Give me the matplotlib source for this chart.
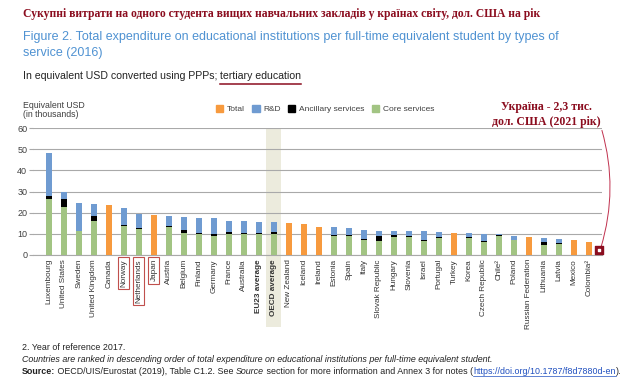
import numpy as np
import matplotlib
matplotlib.use("Agg")
import matplotlib.pyplot as plt
import matplotlib.transforms as mtransforms
from matplotlib.patches import Patch, Rectangle

# ------------------------------------------------------------------ #
#  Data (thousand USD per student, tertiary education, 2016)          #
# ------------------------------------------------------------------ #
countries = ["Luxembourg", "United States", "Sweden", "United Kingdom", "Canada",
             "Norway", "Netherlands", "Japan", "Austria", "Belgium", "Finland",
             "Germany", "France", "Australia", "EU23 average", "OECD average",
             "New Zealand", "Iceland", "Ireland", "Estonia", "Spain", "Italy",
             "Slovak Republic", "Hungary", "Slovenia", "Israel", "Portugal",
             "Turkey", "Korea", "Czech Republic", "Chile²", "Poland",
             "Russian Federation", "Lithuania", "Latvia", "Mexico", "Colombia²"]
nan = np.nan
core = [26.6, 22.5, 11.1, 16.1, nan, 13.7, 12.5, nan, 13.2, 10.6, 10.1, 8.9,
        10.0, 10.0, 10.0, 10.0, nan, nan, nan, 9.1, 8.9, 7.1, 6.6, 8.4, 8.5,
        6.5, 7.9, nan, 7.9, 6.0, 9.1, 7.0, nan, 4.9, 5.4, nan, nan]
ancillary = [1.3, 3.9, 0.0, 2.4, nan, 0.5, 0.2, nan, 0.5, 1.4, 0.3, 1.1,
             0.8, 0.6, 0.6, 0.7, nan, nan, nan, 0.4, 0.6, 0.5, 2.3, 1.1, 0.5,
             0.5, 0.5, nan, 0.5, 0.5, 0.4, 0.3, nan, 1.0, 0.3, nan, nan]
rnd = [20.5, 3.5, 13.3, 5.4, nan, 7.8, 6.8, nan, 4.7, 6.0, 7.2, 7.6,
       5.3, 5.5, 5.2, 4.8, nan, nan, nan, 3.6, 3.3, 4.1, 2.5, 1.7, 2.2,
       4.1, 2.5, nan, 2.1, 3.3, 0.2, 1.7, nan, 2.0, 1.7, nan, nan]
total_only = [nan, nan, nan, nan, 23.6, nan, nan, 19.0, nan, nan, nan, nan,
              nan, nan, nan, nan, 14.9, 14.5, 13.3, nan, nan, nan, nan, nan, nan,
              nan, nan, 10.6, nan, nan, nan, nan, 8.5, nan, nan, 7.3, 5.9]
ukraine_value = 2.3
highlighted = ["Norway", "Netherlands", "Japan"]
bold_labels = ["EU23 average", "OECD average"]

C_ORANGE = "#f79a3e"
C_BLUE = "#6f9bd1"
C_GREEN = "#a2c483"
C_BLACK = "#000000"
C_DARKRED = "#8b0d1f"
C_TITLE = "#4f92d2"
SERIF = ["Liberation Serif", "DejaVu Serif"]

plt.rcParams["font.family"] = ["Liberation Sans", "DejaVu Sans"]

W, H = 620, 391
fig = plt.figure(figsize=(6.2, 3.91), dpi=100)
ax = fig.add_axes([0.053, 0.348, 0.918, 0.324])


def fit_width(txt, target_px):
    # shrink/grow a text so it spans the same width as in the reference
    fig.canvas.draw()
    w = txt.get_window_extent().width
    txt.set_fontsize(txt.get_fontsize() * target_px / w)


def put(xpx, ypx, s, size, **kw):
    return fig.text(xpx / W, 1 - ypx / H, s, fontsize=size, va="center",
                    ha="left", **kw)


x = np.arange(len(countries))
core_a = np.array(core)
anc_a = np.array(ancillary)
rnd_a = np.array(rnd)
w = 0.45

ax.bar(x, core_a, w, color=C_GREEN, zorder=3)
ax.bar(x, anc_a, w, bottom=core_a, color=C_BLACK, zorder=3)
ax.bar(x, rnd_a, w, bottom=core_a + anc_a, color=C_BLUE, zorder=3)
ax.bar(x, total_only, w, color=C_ORANGE, zorder=3)

# Ukraine marker
ux = len(countries) - 0.3
ax.scatter([ux], [ukraine_value], marker="s", s=30, color=C_DARKRED,
           zorder=5, clip_on=False)
ax.scatter([ux], [ukraine_value], marker="s", s=4, color="white",
           zorder=6, clip_on=False)

ax.set_xlim(-1.07, 36.87)
ax.set_ylim(0, 60)
ax.set_yticks(range(0, 61, 10))
ax.grid(axis="y", color="#a9a9a9", linewidth=0.8, zorder=0)
for s in ["top", "right", "left"]:
    ax.spines[s].set_visible(False)
ax.spines["bottom"].set_color("#a9a9a9")
ax.tick_params(axis="y", length=3, color="#a9a9a9", labelsize=6.5,
               labelcolor="#404040", pad=1)
ax.tick_params(axis="x", length=0, pad=3)

ax.set_xticks(x)
ax.set_xticklabels(countries, rotation=90, fontsize=5.9, color="#333333",
                   va="top")
for lbl in ax.get_xticklabels():
    t = lbl.get_text()
    if t in bold_labels:
        lbl.set_fontweight("bold")
    if t in highlighted:
        lbl.set_bbox(dict(boxstyle="square,pad=0.25", fc="none",
                          ec="#c0504d", lw=0.8))

# OECD average shading
trans = mtransforms.blended_transform_factory(ax.transData, ax.transAxes)
ax.add_patch(Rectangle((15 - 0.5, -0.57), 1.0, 1.57, transform=trans,
                       facecolor="#ecebdd", edgecolor="none", zorder=1,
                       clip_on=False))

ax.text(-0.018, 1.215, "Equivalent USD\n(in thousands)", transform=ax.transAxes,
        fontsize=6.3, color="#404040", va="top", ha="left", linespacing=1.05)

handles = [Patch(color=C_ORANGE, label="Total"), Patch(color=C_BLUE, label="R&D"),
           Patch(color=C_BLACK, label="Ancillary services"),
           Patch(color=C_GREEN, label="Core services")]
ax.legend(handles=handles, loc="center", bbox_to_anchor=(0.513, 1.152),
          ncol=4, frameon=False, fontsize=6.0, handlelength=0.9,
          handleheight=0.9, handletextpad=0.4, columnspacing=0.9,
          labelcolor="#404040")

# Ukraine annotation
ax.annotate("Україна - 2,3 тис.\nдол. США (2021 рік)",
            xy=(ux + 0.1, ukraine_value + 1.3), xycoords="data",
            xytext=(0.903, 1.005), textcoords="axes fraction",
            fontsize=8.5, fontweight="bold", color=C_DARKRED, family=SERIF,
            ha="center", va="bottom", linespacing=1.25,
            arrowprops=dict(arrowstyle="-", color="#c0304d", lw=0.7,
                            shrinkA=0, shrinkB=0,
                            connectionstyle="arc3,rad=-0.15",
                            relpos=(1.0, 0.0)))

# Titles
t_ua = put(23, 14, "Сукупні витрати на одного студента вищих навчальних закладів у країнах світу, дол. США на рік",
           8.3, fontweight="bold", color=C_DARKRED, family=SERIF)
fit_width(t_ua, 516)
t1 = put(23, 37, "Figure 2. Total expenditure on educational institutions per full-time equivalent student by types of",
         10.3, color=C_TITLE)
fit_width(t1, 537)
t2 = put(23, 53, "service (2016)", t1.get_fontsize(), color=C_TITLE)

sub = put(23, 76, "In equivalent USD converted using PPPs; ", 8.2, color="#222222")
sub_full = put(23, 76, "In equivalent USD converted using PPPs; tertiary education",
               8.2, color="#222222", alpha=0)
fit_width(sub_full, 279)
sub.set_fontsize(sub_full.get_fontsize())
sub_full.set_visible(False)
fig.canvas.draw()
bx = sub.get_window_extent().x1
sub2 = put(bx, 76, "tertiary education", sub.get_fontsize(), color="#222222")
fig.canvas.draw()
bb = sub2.get_window_extent()
fig.add_artist(plt.Line2D([bb.x0 / W, bb.x1 / W], [1 - 83.5 / H, 1 - 83.5 / H],
                          color=C_DARKRED, lw=1.1))

# Footnotes
fs = 5.6
put(22, 347, "2. Year of reference 2017.", fs, color="#222222")
it = put(22, 360, "Countries are ranked in descending order of total expenditure on educational institutions per full-time equivalent student.",
         fs, style="italic", color="#222222")
fit_width(it, 464)
fs = it.get_fontsize()
fig.texts[-2].set_fontsize(fs)

parts = [("Source:", dict(fontweight="bold", color="#222222")),
         (" OECD/UIS/Eurostat (2019), Table C1.2. See ", dict(color="#222222")),
         ("Source", dict(style="italic", color="#222222")),
         (" section for more information and Annex 3 for notes (", dict(color="#222222")),
         ("https://doi.org/10.1787/f8d7880d-en", dict(color="#1f4fbf")),
         (").", dict(color="#222222"))]
xp = 22
for s, kw in parts:
    tt = put(xp, 372, s, fs, **kw)
    fig.canvas.draw()
    e = tt.get_window_extent()
    if s.startswith("https"):
        fig.add_artist(plt.Line2D([e.x0 / W, e.x1 / W], [1 - 376 / H, 1 - 376 / H],
                                  color="#1f4fbf", lw=0.5))
    xp = e.x1

fig.savefig("out.png", dpi=100)
